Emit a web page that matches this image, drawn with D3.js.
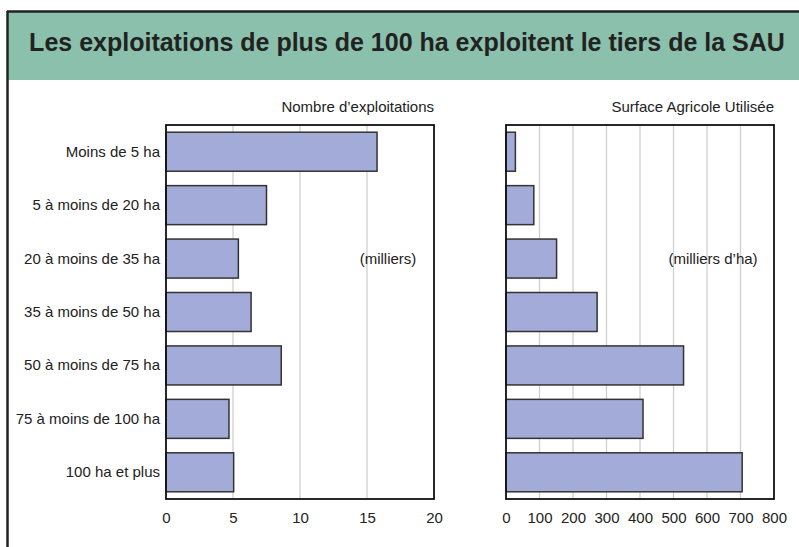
<!DOCTYPE html>
<html>
<head>
<meta charset="utf-8">
<script src="https://cdn.jsdelivr.net/npm/d3@7"></script>
<style>
  body { margin: 0; background: #fff; }
  svg text { font-family: "Liberation Sans Narrow", "Arial Narrow", "Liberation Sans", sans-serif; fill: #222; }
</style>
</head>
<body>
<div id="chart"></div>
<script>
// Data
let categories = ["Moins de 5 ha", "5 à moins de 20 ha", "20 à moins de 35 ha", "35 à moins de 50 ha",
  "50 à moins de 75 ha", "75 à moins de 100 ha", "100 ha et plus"];
let exploitations = [15.75, 7.5, 5.4, 6.35, 8.6, 4.7, 5.05];   // milliers
let sau = [28, 83, 151, 272, 530, 409, 705];                  // milliers d'ha
let ticksLeft = [0, 5, 10, 15, 20];
let ticksRight = [0, 100, 200, 300, 400, 500, 600, 700, 800];

function BuildChart(){
  let width = 799, height = 547;
  let top = 125, bottom = 499;

  let svg = d3.select('#chart').append('svg')
    .attr('width', width).attr('height', height);

  // frame and title band
  svg.append('rect').attr('x', 8).attr('y', 12).attr('width', width).attr('height', 68)
    .attr('fill', '#8bc1ac');
  svg.append('line').attr('x1', 7).attr('x2', width).attr('y1', 11.5).attr('y2', 11.5)
    .attr('stroke', '#222').attr('stroke-width', 2.5);
  svg.append('line').attr('x1', 7.5).attr('x2', 7.5).attr('y1', 11).attr('y2', height)
    .attr('stroke', '#222').attr('stroke-width', 2.5);
  svg.append('text')
    .attr('x', 407).attr('y', 51)
    .attr('text-anchor', 'middle')
    .style('font-family', '"Liberation Sans", Arial, sans-serif')
    .style('font-weight', 'bold').style('font-size', '25px')
    .text("Les exploitations de plus de 100 ha exploitent le tiers de la SAU");

  let y = d3.scaleBand().domain(categories).range([top, bottom]).paddingInner(0.27).paddingOuter(0.135);

  function panel(x0, x1, maxV, ticks, values, header, unit, unitX){
    let x = d3.scaleLinear().domain([0, maxV]).range([x0, x1]);
    let g = svg.append('g');

    // grid
    g.selectAll('.grid').data(ticks.slice(1, -1)).enter().append('line')
      .attr('x1', d => x(d)).attr('x2', d => x(d))
      .attr('y1', top).attr('y2', bottom)
      .attr('stroke', '#cfcfcf').attr('stroke-width', 1.3);

    // bars
    g.selectAll('.bar').data(values).enter().append('rect')
      .attr('x', x(0))
      .attr('y', (d, i) => y(categories[i]))
      .attr('width', d => x(d) - x(0))
      .attr('height', y.bandwidth())
      .attr('fill', '#a3acd8')
      .attr('stroke', '#333').attr('stroke-width', 1.5);

    // frame
    g.append('rect').attr('x', x0).attr('y', top).attr('width', x1 - x0).attr('height', bottom - top)
      .attr('fill', 'none').attr('stroke', '#111').attr('stroke-width', 1.8);

    // axis
    let axis = d3.axisBottom(x).tickValues(ticks).tickSize(0).tickPadding(13);
    let ax = g.append('g').attr('transform', 'translate(0,' + bottom + ')').call(axis);
    ax.select('.domain').remove();
    ax.selectAll('text').style('font-size', '15px').attr('fill', '#222');

    g.append('text').attr('x', x1).attr('y', 112).attr('text-anchor', 'end')
      .style('font-size', '15px').text(header);
    g.append('text').attr('x', unitX).attr('y', y(categories[2]) + y.bandwidth() / 2 + 5)
      .attr('text-anchor', 'middle').style('font-size', '15px').text(unit);
    return x;
  }

  panel(166, 434, 20, ticksLeft, exploitations, "Nombre d\u2019exploitations", "(milliers)", 388);
  panel(506, 774, 800, ticksRight, sau, "Surface Agricole Utilisée", "(milliers d\u2019ha)", 713);

  // category labels
  svg.selectAll('.cat').data(categories).enter().append('text')
    .attr('x', 160)
    .attr('y', d => y(d) + y.bandwidth() / 2 + 5)
    .attr('text-anchor', 'end')
    .style('font-size', '15px')
    .text(d => d);
}

BuildChart();
</script>
</body>
</html>
